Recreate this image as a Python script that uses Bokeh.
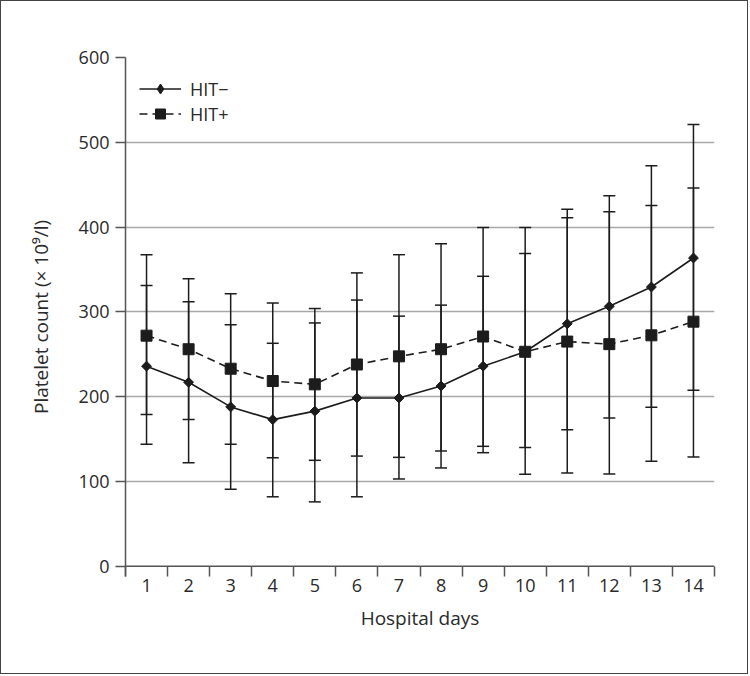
import math
from bokeh.plotting import figure
from bokeh.models import (ColumnDataSource, Whisker, TeeHead, FixedTicker, Span,
                          Range1d, Legend, LegendItem)
from bokeh.embed import file_html
from bokeh.resources import INLINE

days = list(range(1, 15))

hit_neg_mean = [236, 217, 188, 173, 183, 198.5, 198.5, 212.6, 236, 253, 286, 306.6, 329.4, 363.6]
hit_neg_upper = [331, 312, 285, 263, 287, 314, 295, 308, 342, 369, 411, 437, 472.5, 521]
hit_neg_lower = [144, 122, 91, 82, 76, 82, 103, 116, 134, 140, 161, 175, 187.5, 207.5]

hit_pos_mean = [272, 256, 233, 218.5, 214.6, 238, 247.6, 256, 271, 253, 265, 262, 272.4, 288.5]
hit_pos_upper = [367.5, 339, 321.5, 310.5, 304, 346, 367.5, 380.5, 399.4, 399.4, 421, 418, 425.6, 446]
hit_pos_lower = [179, 173, 144, 128, 125, 130, 128.5, 136, 141.5, 108.5, 110, 109, 124, 129]

y_ticks = [0, 100, 200, 300, 400, 500, 600]
grid_ticks = [100, 200, 300, 400, 500]

FONT = "Open Sans"
TXT = "#2a2a2a"
INK = "#1c1c1c"
AXC = "#555555"

p = figure(width=748, height=674, output_backend="svg", toolbar_location=None,
           x_range=Range1d(0.5, 14.5), y_range=Range1d(-12, 600),
           min_border_left=124, min_border_right=35, min_border_top=56,
           min_border_bottom=99)
p.outline_line_color = None
p.background_fill_color = "white"
p.border_fill_color = "white"
p.styles = {"border": "1px solid #444"}

# axes
xa = p.xaxis[0]
xa.ticker = FixedTicker(ticks=days, minor_ticks=[d + 0.5 for d in range(0, 15)])
xa.axis_line_color = None
xa.major_tick_in = 0
xa.major_tick_out = 0
xa.minor_tick_in = 10
xa.minor_tick_out = 0
xa.minor_tick_line_color = AXC
xa.minor_tick_line_width = 1.5
xa.major_label_standoff = 2
xa.major_label_text_font = FONT
xa.major_label_text_font_size = "18px"
xa.major_label_text_color = TXT
xa.axis_label = "Hospital days"
xa.axis_label_text_font = FONT
xa.axis_label_text_font_size = "19px"
xa.axis_label_text_font_style = "normal"
xa.axis_label_text_color = TXT
xa.axis_label_standoff = 10

ya = p.yaxis[0]
ya.ticker = FixedTicker(ticks=y_ticks)
ya.axis_line_color = AXC
ya.axis_line_width = 1.5
ya.major_tick_in = 0
ya.major_tick_out = 10
ya.major_tick_line_color = AXC
ya.major_tick_line_width = 1.5
ya.minor_tick_out = 0
ya.minor_tick_in = 0
ya.major_label_standoff = 6
ya.major_label_text_font = FONT
ya.major_label_text_font_size = "18px"
ya.major_label_text_color = TXT
ya.axis_label = "Platelet count (× 10⁹/l)"
ya.axis_label_text_font = FONT
ya.axis_label_text_font_size = "19px"
ya.axis_label_text_font_style = "normal"
ya.axis_label_text_color = TXT
ya.axis_label_standoff = 22

p.xgrid.visible = False
p.ygrid.ticker = FixedTicker(ticks=grid_ticks)
p.ygrid.grid_line_color = "#a8a8a8"
p.ygrid.grid_line_width = 1.5

p.add_layout(Span(location=0, dimension="width", line_color=AXC, line_width=1.5))

src_neg = ColumnDataSource(dict(x=days, y=hit_neg_mean, lo=hit_neg_lower, hi=hit_neg_upper))
src_pos = ColumnDataSource(dict(x=days, y=hit_pos_mean, lo=hit_pos_lower, hi=hit_pos_upper))

for src in (src_neg, src_pos):
    w = Whisker(base="x", lower="lo", upper="hi", source=src,
                line_color=INK, line_width=1.5,
                upper_head=TeeHead(size=12, line_color=INK, line_width=1.5),
                lower_head=TeeHead(size=12, line_color=INK, line_width=1.5))
    p.add_layout(w)

l_neg = p.line("x", "y", source=src_neg, line_color=INK, line_width=1.6)
m_neg = p.scatter("x", "y", source=src_neg, marker="square", size=7, angle=math.pi / 4,
                  fill_color=INK, line_color=INK)
l_pos = p.line("x", "y", source=src_pos, line_color=INK, line_width=1.6, line_dash="8 5")
m_pos = p.scatter("x", "y", source=src_pos, marker="square", size=11,
                  fill_color=INK, line_color=INK)

# legend-only diamond glyph (placed outside the visible range)
leg_src = ColumnDataSource(dict(x=[-10], y=[-100]))
m_leg = p.scatter("x", "y", source=leg_src, marker="diamond", size=11,
                  fill_color=INK, line_color=INK)

legend = Legend(items=[LegendItem(label="HIT\u2212", renderers=[l_neg, m_leg]),
                       LegendItem(label="HIT+", renderers=[l_pos, m_pos])],
                location=(14, 450), padding=0, margin=0, spacing=0,
                glyph_width=42, glyph_height=25, label_standoff=9,
                label_text_font=FONT, label_text_font_size="18px",
                label_text_color=TXT, border_line_color=None,
                background_fill_alpha=0)
p.add_layout(legend)

open("out.html", "w").write(file_html(p, INLINE))
